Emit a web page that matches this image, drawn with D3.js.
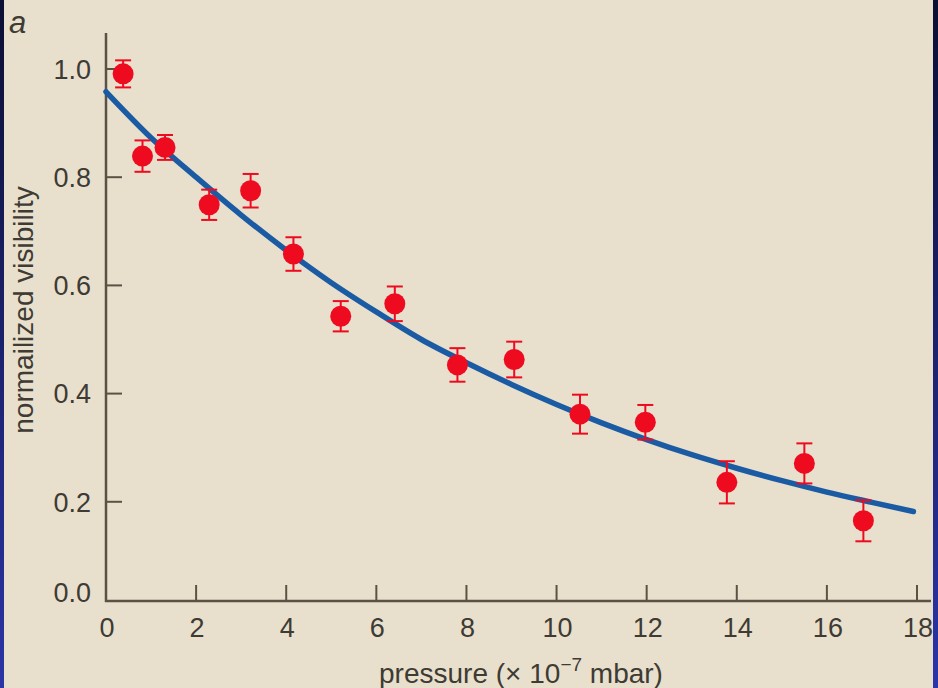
<!DOCTYPE html>
<html>
<head>
<meta charset="utf-8">
<script src="https://cdn.jsdelivr.net/npm/d3@7"></script>
<style>
	html, body { margin: 0; padding: 0; background: #e8e0cc; }
	svg { display: block; }
	text { font-family: "Liberation Sans", Arial, sans-serif; fill: #3e3a34; }
</style>
</head>
<body>
<div id="root"></div>
<script>
// measured points (pressure in 1e-7 mbar)
const pressure = [0.38, 0.81, 1.31, 2.29, 3.21, 4.16, 5.21, 6.41, 7.80, 9.06, 10.52, 11.97, 13.78, 15.50, 16.81]
const visibility = [0.991, 0.839, 0.855, 0.749, 0.775, 0.658, 0.543, 0.566, 0.453, 0.463, 0.362, 0.347, 0.236, 0.271, 0.165]
const visErr = [0.025, 0.029, 0.023, 0.028, 0.031, 0.031, 0.028, 0.032, 0.031, 0.033, 0.036, 0.032, 0.039, 0.037, 0.038]

// fitted curve
const fitPressure = [0, 1, 2, 3, 4, 5, 6, 7, 8, 9, 10, 11, 12, 13, 14, 15, 16, 17, 17.92]
const fitVisibility = [0.958, 0.873, 0.80, 0.73, 0.665, 0.605, 0.551, 0.50, 0.457, 0.417, 0.38, 0.346, 0.315, 0.287, 0.262, 0.239, 0.218, 0.199, 0.182]

const xTicks = [0, 2, 4, 6, 8, 10, 12, 14, 16, 18]
const yTicks = [0, 0.2, 0.4, 0.6, 0.8, 1.0]

const width = 938, height = 688
const axisX = 106, axisY = 601

const x = d3.scaleLinear().domain([0, 18]).range([axisX, 917])
const y = d3.scaleLinear().domain([0, 1]).range([610, 69])

const svg = d3.select('#root')
	.append('svg')
	.attr('width', width)
	.attr('height', height)

// dark blue side strips
const grad = svg.append('defs').append('linearGradient')
	.attr('id', 'edge')
	.attr('x1', 0).attr('y1', 0).attr('x2', 0).attr('y2', 1)
grad.append('stop').attr('offset', '0%').attr('stop-color', '#0b0f33')
grad.append('stop').attr('offset', '100%').attr('stop-color', '#2b35a6')

svg.append('rect').attr('x', 0).attr('y', 0).attr('width', width).attr('height', height).attr('fill', '#e8e0cc')
svg.append('rect').attr('x', 0).attr('y', 0).attr('width', 4).attr('height', height).attr('fill', 'url(#edge)')
svg.append('rect').attr('x', 933).attr('y', 0).attr('width', 5).attr('height', height).attr('fill', 'url(#edge)')

const axisColor = '#5a5245'

// axes
svg.append('line')
	.attr('x1', axisX).attr('x2', axisX)
	.attr('y1', 33).attr('y2', axisY + 1)
	.attr('stroke', axisColor).attr('stroke-width', 2.5)
svg.append('line')
	.attr('x1', axisX - 1).attr('x2', 931)
	.attr('y1', axisY).attr('y2', axisY)
	.attr('stroke', axisColor).attr('stroke-width', 2.5)

// y ticks (inside)
svg.selectAll('.ytick')
	.data(yTicks.filter(d => d > 0))
	.enter().append('line')
	.attr('class', 'ytick')
	.attr('x1', axisX).attr('x2', axisX + 16)
	.attr('y1', d => y(d)).attr('y2', d => y(d))
	.attr('stroke', axisColor).attr('stroke-width', 2)

svg.selectAll('.ylabel')
	.data(yTicks)
	.enter().append('text')
	.attr('class', 'ylabel')
	.attr('x', 91)
	.attr('y', d => d === 0 ? axisY - 9 : y(d))
	.attr('dy', '0.36em')
	.attr('text-anchor', 'end')
	.style('font-size', '27px')
	.text(d => d.toFixed(1))

// x ticks (inside)
svg.selectAll('.xtick')
	.data(xTicks.filter(d => d > 0))
	.enter().append('line')
	.attr('class', 'xtick')
	.attr('x1', d => x(d)).attr('x2', d => x(d))
	.attr('y1', axisY - 16).attr('y2', axisY)
	.attr('stroke', axisColor).attr('stroke-width', 2)

svg.selectAll('.xlabel')
	.data(xTicks)
	.enter().append('text')
	.attr('class', 'xlabel')
	.attr('x', d => x(d) + 1)
	.attr('y', 637)
	.attr('text-anchor', 'middle')
	.style('font-size', '27px')
	.text(d => d)

// axis titles
const xTitle = svg.append('text')
	.attr('x', 521)
	.attr('y', 683)
	.attr('text-anchor', 'middle')
	.style('font-size', '28px')
xTitle.append('tspan').text('pressure (× 10')
xTitle.append('tspan').attr('dy', -12).style('font-size', '19px').text('−7')
xTitle.append('tspan').attr('dy', 12).text(' mbar)')

svg.append('text')
	.attr('transform', 'translate(33, 310) rotate(-90)')
	.attr('text-anchor', 'middle')
	.style('font-size', '28px')
	.text('normailized visibility')

svg.append('text')
	.attr('x', 9)
	.attr('y', 33)
	.style('font-size', '31px')
	.style('font-style', 'italic')
	.text('a')

// fit line
const line = d3.line()
	.x(d => x(d[0]))
	.y(d => y(d[1]))
	.curve(d3.curveMonotoneX)

svg.append('path')
	.attr('d', line(fitPressure.map((p, i) => [p, fitVisibility[i]])))
	.attr('fill', 'none')
	.attr('stroke', '#1b5ba3')
	.attr('stroke-width', 5.5)
	.attr('stroke-linecap', 'round')

// data with error bars
const points = pressure.map((p, i) => ({ p, v: visibility[i], e: visErr[i] }))
const red = '#ee0b20'

const g = svg.selectAll('.pt')
	.data(points)
	.enter().append('g')
	.attr('class', 'pt')

g.append('line')
	.attr('x1', d => x(d.p)).attr('x2', d => x(d.p))
	.attr('y1', d => y(d.v + d.e)).attr('y2', d => y(d.v - d.e))
	.attr('stroke', red).attr('stroke-width', 2)
g.append('line')
	.attr('x1', d => x(d.p) - 8).attr('x2', d => x(d.p) + 8)
	.attr('y1', d => y(d.v + d.e)).attr('y2', d => y(d.v + d.e))
	.attr('stroke', red).attr('stroke-width', 2)
g.append('line')
	.attr('x1', d => x(d.p) - 8).attr('x2', d => x(d.p) + 8)
	.attr('y1', d => y(d.v - d.e)).attr('y2', d => y(d.v - d.e))
	.attr('stroke', red).attr('stroke-width', 2)
g.append('circle')
	.attr('cx', d => x(d.p))
	.attr('cy', d => y(d.v))
	.attr('r', 10.5)
	.attr('fill', red)
</script>
</body>
</html>
